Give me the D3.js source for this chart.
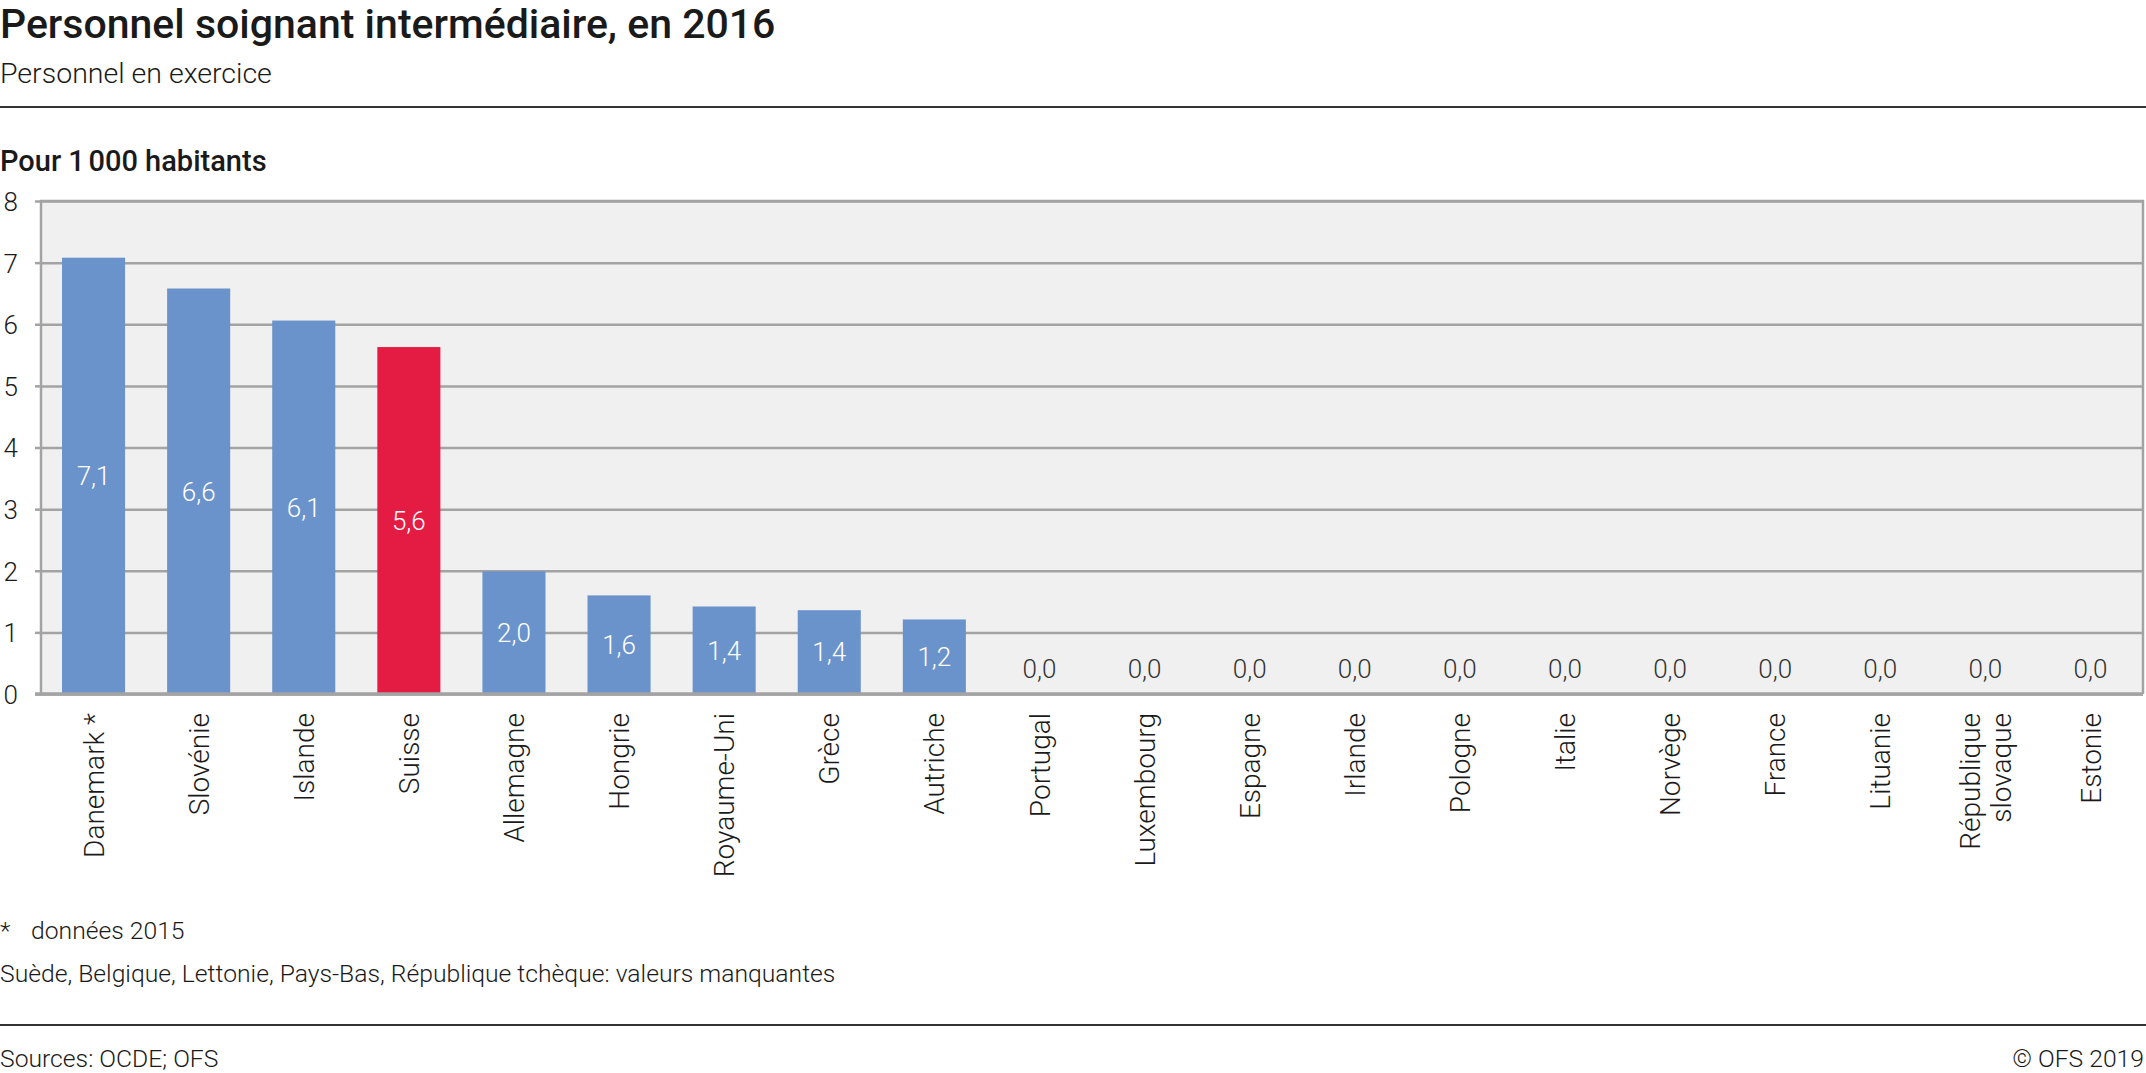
<!DOCTYPE html>
<html lang="fr">
<head>
<meta charset="UTF-8">
<title>Personnel soignant intermédiaire, en 2016</title>
<script src="https://d3js.org/d3.v7.min.js"></script>
<style>
    body { margin: 0; background: #fff; }
    svg { display: block; font-family: Roboto, "Noto Sans", sans-serif; }
    .title { font-size: 41px; font-weight: 500; fill: #1a1a1a; }
    .sub { font-size: 28.5px; font-weight: 300; fill: #1a1a1a; }
    .unit { font-size: 29px; font-weight: 500; fill: #1a1a1a; }
    .note { font-size: 24.7px; font-weight: 300; fill: #1a1a1a; }
    .axis text { font-family: Roboto, sans-serif; font-size: 26px; font-weight: 300; fill: #1a1a1a; }
    .xlab text { font-size: 28px; }
    .val { font-size: 26px; font-weight: 300; }
</style>
</head>
<body>
<svg width="2146" height="1073"></svg>
<script>
// data
const countries = ["Danemark *", "Slovénie", "Islande", "Suisse", "Allemagne", "Hongrie",
    "Royaume-Uni", "Grèce", "Autriche", "Portugal", "Luxembourg", "Espagne", "Irlande",
    "Pologne", "Italie", "Norvège", "France", "Lituanie", "République slovaque", "Estonie"];
const values = [7.08, 6.58, 6.06, 5.63, 1.99, 1.6, 1.42, 1.36, 1.21, 0, 0, 0, 0, 0, 0, 0, 0, 0, 0, 0];
const highlight = "Suisse";
const yTicks = [0, 1, 2, 3, 4, 5, 6, 7, 8];

const W = 2146, H = 1073;
const plotL = 41, plotR = 2143, plotT = 201, plotB = 694;

const svg = d3.select("svg");

const x = d3.scaleBand().domain(countries).range([plotL, plotR])
    .paddingInner(0.4).paddingOuter(0.2);
const y = d3.scaleLinear().domain([0, 8]).range([plotB, plotT]);

const fmt = v => v.toFixed(1).replace(".", ",");

// header
svg.append("text").attr("class", "title").attr("x", 0).attr("y", 38)
    .text("Personnel soignant intermédiaire, en 2016");
svg.append("text").attr("class", "sub").attr("x", 0).attr("y", 83)
    .text("Personnel en exercice");
svg.append("line").attr("x1", 0).attr("x2", W).attr("y1", 107).attr("y2", 107)
    .attr("stroke", "#333").attr("stroke-width", 2);
svg.append("text").attr("class", "unit").attr("x", 0).attr("y", 171)
    .text("Pour 1\u202f000 habitants");

// plot background
svg.append("rect").attr("x", plotL).attr("y", plotT)
    .attr("width", plotR - plotL).attr("height", plotB - plotT)
    .attr("fill", "#f0f0f0");

// gridlines
svg.append("g").attr("class", "grid")
    .attr("transform", `translate(${plotL},0)`)
    .call(d3.axisLeft(y).tickValues(yTicks).tickSize(-(plotR - plotL)).tickFormat(""))
    .call(g => g.select(".domain").remove())
    .call(g => g.selectAll("line").attr("stroke", "#a3a3a3").attr("stroke-width", 2.5));

// bars
svg.append("g").selectAll("rect")
    .data(countries)
    .join("rect")
    .attr("x", d => x(d))
    .attr("width", x.bandwidth())
    .attr("y", (d, i) => y(values[i]))
    .attr("height", (d, i) => plotB - y(values[i]))
    .attr("fill", d => d === highlight ? "#e41c43" : "#6a93cb");

// frame
svg.append("path")
    .attr("d", `M${plotL},${plotB}V${plotT}H${plotR}V${plotB}`)
    .attr("fill", "none").attr("stroke", "#a3a3a3").attr("stroke-width", 2.5);

// y axis
svg.append("g").attr("class", "axis")
    .attr("transform", `translate(${plotL},0)`)
    .call(d3.axisLeft(y).tickValues(yTicks).tickSize(6).tickPadding(3).tickFormat(d3.format("d")))
    .call(g => g.select(".domain").remove())
    .call(g => g.selectAll("line").attr("stroke", "#a3a3a3").attr("stroke-width", 2.5))
    .call(g => g.selectAll("text").attr("x", -23).attr("dy", "0.36em"));

// baseline
svg.append("line").attr("x1", plotL - 6).attr("x2", plotR)
    .attr("y1", plotB).attr("y2", plotB)
    .attr("stroke", "#a3a3a3").attr("stroke-width", 3.5);

// value labels
svg.append("g").selectAll("text")
    .data(countries)
    .join("text")
    .attr("class", "val")
    .attr("text-anchor", "middle")
    .attr("x", d => x(d) + x.bandwidth() / 2)
    .attr("y", (d, i) => values[i] > 0.5 ? (y(values[i]) + plotB) / 2 : plotB - 16)
    .attr("dy", (d, i) => values[i] > 0.5 ? "0.36em" : 0)
    .attr("fill", (d, i) => values[i] > 0.5 ? "#fff" : "#333")
    .text((d, i) => fmt(values[i]));

// x axis labels
const xAxis = svg.append("g").attr("class", "axis xlab")
    .attr("transform", `translate(0,${plotB})`)
    .call(d3.axisBottom(x).tickSize(0).tickFormat(""))
    .call(g => g.select(".domain").remove());

xAxis.selectAll(".tick").each(function (d) {
    const words = d.length > 15 ? d.split(" ") : [d];
    const t = d3.select(this).append("text")
        .attr("text-anchor", "end")
        .attr("transform", "translate(0,19) rotate(-90)");
    words.forEach((w, k) => {
        t.append("tspan").attr("x", 0)
            .attr("dy", k === 0 ? `${0.36 - (words.length - 1) * 0.55}em` : "1.1em")
            .text(w);
    });
});

// footnotes
svg.append("text").attr("class", "note").attr("x", 0).attr("y", 939).text("*");
svg.append("text").attr("class", "note").attr("x", 31).attr("y", 939).text("données 2015");
svg.append("text").attr("class", "note").attr("x", 0).attr("y", 982)
    .text("Suède, Belgique, Lettonie, Pays-Bas, République tchèque: valeurs manquantes");
svg.append("line").attr("x1", 0).attr("x2", W).attr("y1", 1025).attr("y2", 1025)
    .attr("stroke", "#333").attr("stroke-width", 2);
svg.append("text").attr("class", "note").attr("x", 0).attr("y", 1067).text("Sources: OCDE; OFS");
svg.append("text").attr("class", "note").attr("x", W - 2).attr("y", 1067)
    .attr("text-anchor", "end").text("© OFS 2019");
</script>
</body>
</html>
